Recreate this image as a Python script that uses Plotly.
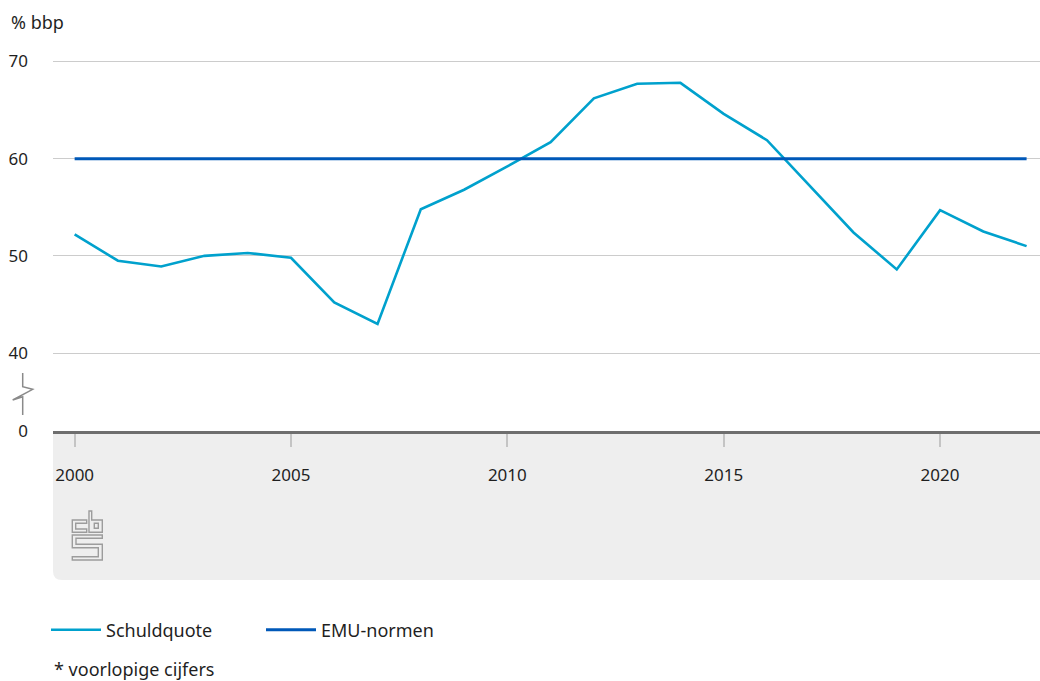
import plotly.graph_objects as go

years = list(range(2000, 2023))
schuldquote = [52.2, 49.5, 48.9, 50.0, 50.3, 49.8, 45.2, 43.0, 54.8, 56.8, 59.2, 61.7,
               66.2, 67.7, 67.8, 64.6, 61.9, 57.1, 52.4, 48.6, 54.7, 52.5, 51.0]
emu_normen = [60, 60, 60, 60, 60, 60, 60, 60, 60, 60, 60, 60,
              60, 60, 60, 60, 60, 60, 60, 60, 60, 60, 60]
y_tickvals = [32, 40, 50, 60, 70]
y_ticktext = ["0", "40", "50", "60", "70"]
x_tickvals = [2000, 2005, 2010, 2015, 2020]
x_ticktext = ["2000", "2005", "2010", "2015", "2020"]

W, H = 1040, 681
ML, MR, MT, MB = 53, 0, 42, 681 - 431
PW, PH = W - ML - MR, H - MT - MB
FONT = "Noto Sans"
TXT = "#1f1f1f"


def px(x):  # screen pixel -> paper x
    return (x - ML) / PW


def py(y):  # screen pixel -> paper y
    return (H - MB - y) / PH


def path(points, close=False):
    s = "M " + " L ".join(f"{px(a):.5f},{py(b):.5f}" for a, b in points)
    return s + (" Z" if close else "")


fig = go.Figure()
fig.add_trace(go.Scatter(x=years, y=schuldquote, mode="lines", name="Schuldquote",
                         line=dict(color="#00a1cd", width=2.6)))
fig.add_trace(go.Scatter(x=years, y=emu_normen, mode="lines", name="EMU-normen",
                         line=dict(color="#0058b8", width=3)))

shapes = []
r = 9
band = (f"M {px(53):.5f},{py(431):.5f} L {px(1040):.5f},{py(431):.5f} "
        f"L {px(1040):.5f},{py(580):.5f} L {px(53 + r):.5f},{py(580):.5f} "
        f"Q {px(53):.5f},{py(580):.5f} {px(53):.5f},{py(580 - r):.5f} Z")
shapes.append(dict(type="path", xref="paper", yref="paper", path=band,
                   fillcolor="#eeeeee", line=dict(width=0), layer="below"))
shapes.append(dict(type="path", xref="paper", yref="paper",
                   path=path([(22.7, 373), (22.7, 386.7), (32.7, 389.3), (12.7, 400),
                              (22.7, 396.7), (22.7, 415)]),
                   line=dict(color="#8a8a8a", width=1.5)))
logo_col = "#9c9c9c"
for pts in [
    [(89, 511), (91.7, 511), (91.7, 520), (102.3, 520), (102.3, 532.3), (89, 532.3)],
    [(94.3, 523.3), (98.3, 523.3), (98.3, 528.3), (94.3, 528.3)],
    [(86.7, 520), (72.3, 520), (72.3, 532.3), (86.7, 532.3), (86.7, 529),
     (75.7, 529), (75.7, 523.3), (86.7, 523.3)],
    [(72.3, 535), (102.3, 535), (102.3, 538.3), (76, 538.3), (76, 544.3),
     (102.3, 544.3), (102.3, 560), (72.3, 560), (72.3, 556.7), (98.3, 556.7),
     (98.3, 547.7), (72.3, 547.7)],
]:
    shapes.append(dict(type="path", xref="paper", yref="paper", path=path(pts, True),
                       line=dict(color=logo_col, width=1.4)))

annotations = [
    dict(text="% bbp", xref="paper", yref="paper", x=px(9), y=py(22),
         xanchor="left", yanchor="middle", showarrow=False,
         font=dict(family=FONT, size=18, color=TXT)),
    dict(text="* voorlopige cijfers", xref="paper", yref="paper", x=px(52), y=py(669),
         xanchor="left", yanchor="middle", showarrow=False,
         font=dict(family=FONT, size=18, color=TXT)),
]

fig.update_layout(
    width=W, height=H,
    margin=dict(l=ML, r=MR, t=MT, b=MB, pad=0),
    paper_bgcolor="white", plot_bgcolor="white",
    font=dict(family=FONT, size=18, color=TXT),
    showlegend=True,
    legend=dict(orientation="h", x=px(46), y=py(630), xanchor="left", yanchor="middle",
                entrywidth=150, entrywidthmode="pixels", itemwidth=50,
                font=dict(family=FONT, size=18, color=TXT), bgcolor="rgba(0,0,0,0)"),
    shapes=shapes,
    annotations=annotations,
    xaxis=dict(range=[1999.5, 2022.31], tickvals=x_tickvals, ticktext=x_ticktext,
               showgrid=False, zeroline=False, showline=True, linecolor="#6e6e6e",
               linewidth=3, ticks="outside", ticklen=13, tickwidth=1.5, tickcolor="#c4c4c4",
               ticklabelstandoff=14, tickfont=dict(family=FONT, size=17, color=TXT),
               fixedrange=True),
    yaxis=dict(range=[31.98, 72], tickvals=y_tickvals, ticktext=y_ticktext,
               showgrid=True, gridcolor="#cccccc", gridwidth=1, zeroline=False,
               showline=False, ticks="", ticklabelstandoff=24,
               tickfont=dict(family=FONT, size=17, color=TXT), fixedrange=True),
)

fig.write_html("out.html",
               config={"displayModeBar": False},
               post_script="document.body.style.margin='0';"
                           "document.body.style.overflow='hidden';")
